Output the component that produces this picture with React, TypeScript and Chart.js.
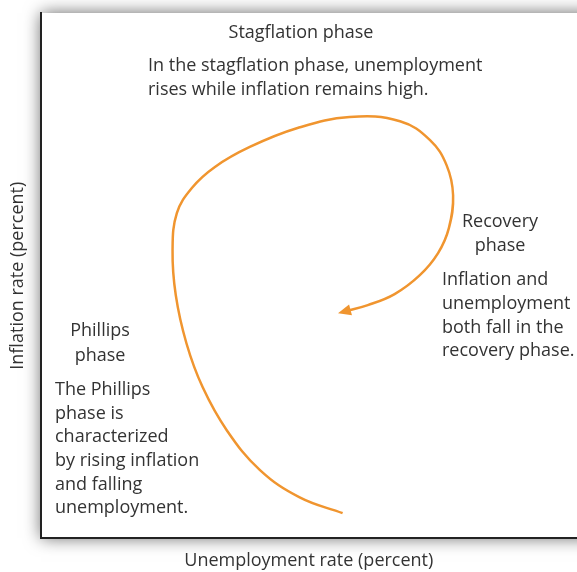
import React, { useEffect, useRef } from "react";
import { Chart, registerables } from "chart.js";

Chart.register(...registerables);

// Path of the cycle (unemployment %, inflation %), in drawing order
const pathUnemployment = [56.3, 48.3, 40.9, 34.7, 30.2, 27.2, 25.2, 24.6, 25.4, 28.2, 32.5, 39.0, 47.9, 57.6, 67.0, 72.6, 75.7, 76.9, 76.1, 74.1, 70.7, 66.0, 61.0, 56.7];
const pathInflation = [4.8, 7.8, 13.0, 20.6, 28.8, 37.1, 46.3, 54.9, 61.9, 66.7, 70.7, 74.5, 78.1, 80.2, 79.4, 75.8, 71.0, 65.3, 59.0, 54.3, 50.1, 46.5, 44.4, 43.2];

const xTitle = "Unemployment rate (percent)";
const yTitle = "Inflation rate (percent)";

const stagflationLines = ["Stagflation phase"];
const stagflationText = ["In the stagflation phase, unemployment", "rises while inflation remains high."];
const recoveryTitle = ["Recovery", "phase"];
const recoveryText = ["Inflation and", "unemployment", "both fall in the", "recovery phase."];
const phillipsTitle = ["Phillips", "phase"];
const phillipsText = ["The Phillips", "phase is", "characterized", "by rising inflation", "and falling", "unemployment."];

const FONT = '"Open Sans", "Noto Sans", sans-serif';
const TEXT_COLOR = "#333333";
const CURVE_COLOR = "#F0952F";

type Block = { lines: string[]; x: number; y: number; align: CanvasTextAlign; step: number };

const blocks: Block[] = [
  { lines: stagflationLines, x: 301, y: 33, align: "center", step: 23.5 },
  { lines: stagflationText, x: 148, y: 66, align: "left", step: 23.5 },
  { lines: recoveryTitle, x: 500, y: 222, align: "center", step: 24 },
  { lines: recoveryText, x: 442, y: 280, align: "left", step: 23.7 },
  { lines: phillipsTitle, x: 100, y: 331, align: "center", step: 25 },
  { lines: phillipsText, x: 55, y: 390, align: "left", step: 23.6 },
];

const framePlugin = {
  id: "frameShadow",
  beforeDraw(chart: any) {
    const { ctx, chartArea } = chart;
    ctx.save();
    ctx.fillStyle = "#ffffff";
    ctx.shadowColor = "rgba(0,0,0,0.6)";
    ctx.shadowBlur = 16;
    ctx.shadowOffsetX = 0;
    ctx.shadowOffsetY = 0;
    ctx.fillRect(chartArea.left, chartArea.top, chartArea.right - chartArea.left + 20, chartArea.bottom - chartArea.top);
    ctx.restore();
  },
};

const annotationPlugin = {
  id: "annotations",
  afterDatasetsDraw(chart: any) {
    const { ctx } = chart;
    ctx.save();
    ctx.fillStyle = TEXT_COLOR;
    ctx.font = `18px ${FONT}`;
    ctx.textBaseline = "middle";
    for (const b of blocks) {
      ctx.textAlign = b.align;
      b.lines.forEach((line, i) => ctx.fillText(line, b.x, b.y + i * b.step));
    }
    // arrowhead at end of the path
    const meta = chart.getDatasetMeta(0);
    const pts = meta.data;
    const last = pts[pts.length - 1];
    if (last) {
      let dx = last.x - (last.cp1x ?? pts[pts.length - 2].x);
      let dy = last.y - (last.cp1y ?? pts[pts.length - 2].y);
      const len = Math.hypot(dx, dy) || 1;
      dx /= len;
      dy /= len;
      const tipX = last.x + dx * 7;
      const tipY = last.y + dy * 7;
      const bx = tipX - dx * 13;
      const by = tipY - dy * 13;
      const px = -dy, py = dx;
      ctx.fillStyle = CURVE_COLOR;
      ctx.beginPath();
      ctx.moveTo(tipX, tipY);
      ctx.lineTo(bx + px * 5.5, by + py * 5.5);
      ctx.lineTo(bx - px * 5.5, by - py * 5.5);
      ctx.closePath();
      ctx.fill();
    }
    ctx.restore();
  },
};

export default function App() {
  const ref = useRef<HTMLCanvasElement | null>(null);
  useEffect(() => {
    document.body.style.margin = "0";
    const data = pathUnemployment.map((x, i) => ({ x, y: pathInflation[i] }));
    const chart = new Chart(ref.current as HTMLCanvasElement, {
      type: "scatter",
      data: {
        datasets: [
          {
            data,
            showLine: true,
            borderColor: CURVE_COLOR,
            borderWidth: 2.5,
            tension: 0.4,
            pointRadius: 0,
            fill: false,
          },
        ],
      },
      plugins: [framePlugin, annotationPlugin],
      options: {
        animation: false,
        responsive: true,
        maintainAspectRatio: false,
        layout: { padding: { left: 0, top: 13, right: 0, bottom: 0 } },
        plugins: { legend: { display: false }, tooltip: { enabled: false } },
        scales: {
          x: {
            type: "linear",
            min: 0,
            max: 100,
            grid: { display: false, drawTicks: false },
            ticks: { display: false },
            border: { display: true, color: "#222222", width: 2 },
            title: {
              display: true,
              text: xTitle,
              color: TEXT_COLOR,
              font: { family: FONT, size: 18 },
              padding: { top: 12, bottom: 0 },
            },
          },
          y: {
            type: "linear",
            min: 0,
            max: 100,
            grid: { display: false, drawTicks: false },
            ticks: { display: false },
            border: { display: true, color: "#222222", width: 2 },
            title: {
              display: true,
              text: yTitle,
              color: TEXT_COLOR,
              font: { family: FONT, size: 18 },
              padding: { top: 7, bottom: 12 },
            },
          },
        },
      },
    });
    return () => chart.destroy();
  }, []);
  return (
    <div style={{ width: 577, height: 572, position: "relative" }}>
      <canvas ref={ref} />
    </div>
  );
}
